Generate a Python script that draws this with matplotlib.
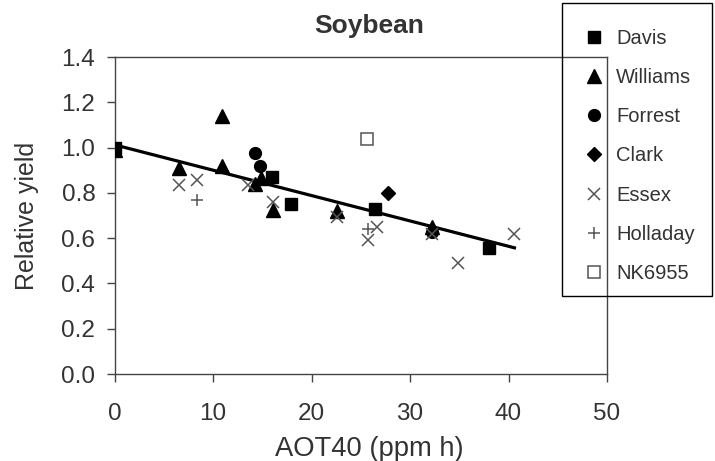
import numpy as np
import matplotlib
matplotlib.use("Agg")
import matplotlib.pyplot as plt
from matplotlib.patches import Rectangle

plt.rcParams['font.family'] = ['Liberation Sans', 'DejaVu Sans']

# values
davis_x = [0.0, 16.0, 17.9, 26.4, 38.0]
davis_y = [1.0, 0.87, 0.75, 0.73, 0.555]
williams_x = [0.0, 6.5, 10.9, 10.9, 14.2, 14.9, 16.1, 22.6, 32.2]
williams_y = [0.99, 0.91, 1.14, 0.92, 0.84, 0.865, 0.725, 0.72, 0.65]
forrest_x = [14.2, 14.8, 32.2]
forrest_y = [0.975, 0.92, 0.625]
clark_x = [27.8]
clark_y = [0.80]
essex_x = [6.5, 8.4, 13.5, 16.1, 22.6, 25.7, 26.6, 32.2, 34.9, 40.6]
essex_y = [0.835, 0.855, 0.835, 0.76, 0.695, 0.59, 0.648, 0.62, 0.49, 0.62]
holladay_x = [8.4, 25.7]
holladay_y = [0.77, 0.64]
nk_x = [25.6]
nk_y = [1.04]

# regression line
fit_intercept = 1.012
fit_slope = -0.0112
fit_range = [0.0, 40.6]

fig = plt.figure(figsize=(7.15, 4.61), dpi=100)
ax = fig.add_axes([114.7 / 715, 1 - 374 / 461, (607 - 114.7) / 715, (374 - 57) / 461])

fx = np.array(fit_range)
ax.plot(fx, fit_intercept + fit_slope * fx, color='black', lw=2.3, zorder=2)

gray = '#555555'
ax.plot(davis_x, davis_y, 's', ms=8.5, color='black', ls='none', label='Davis', zorder=3)
ax.plot(williams_x, williams_y, '^', ms=9.5, color='black', ls='none', label='Williams', zorder=3)
ax.plot(forrest_x, forrest_y, 'o', ms=8.5, color='black', ls='none', label='Forrest', zorder=3)
ax.plot(clark_x, clark_y, 'D', ms=7.5, color='black', ls='none', label='Clark', zorder=3)
ax.plot(essex_x, essex_y, 'x', ms=9, mew=1.1, color=gray, ls='none', label='Essex', zorder=3)
ax.plot(holladay_x, holladay_y, '+', ms=9, mew=1.1, color=gray, ls='none', label='Holladay', zorder=3)
ax.plot(nk_x, nk_y, 's', ms=8, mfc='white', mec=gray, mew=1.1, ls='none', label='NK6955', zorder=3)

ax.set_xlim(0, 50)
ax.set_ylim(0, 1.4)
ax.set_xticks([0, 10, 20, 30, 40, 50])
ax.set_yticks(np.arange(0, 1.41, 0.2))
ax.set_yticklabels(['%.1f' % v for v in np.arange(0, 1.41, 0.2)])

textc = '#333333'
for s in ax.spines.values():
    s.set_color('#444444')
    s.set_linewidth(1.0)
ax.tick_params(direction='out', length=6, width=1, color='#444444',
               labelsize=17.5, labelcolor=textc)
ax.tick_params(axis='x', pad=15)
ax.tick_params(axis='y', pad=8)

ax.set_xlabel('AOT40 (ppm h)', fontsize=19.7, color=textc, labelpad=8, x=0.5166)
ax.set_ylabel('Relative yield', fontsize=18, color=textc, labelpad=16)
ax.set_title('Soybean', fontsize=19, fontweight='bold', color=textc, pad=17, x=0.5166)

# legend box drawn separately, entries placed inside
fig.patches.append(Rectangle((562 / 715, 1 - 296 / 461), 150 / 715, 293 / 461,
                             transform=fig.transFigure, fill=False,
                             edgecolor='black', lw=1.0))
leg = fig.legend(loc='upper left', bbox_to_anchor=(584 / 715, 1 - 29 / 461),
                 frameon=False, fontsize=14.5,
                 labelspacing=1.0, handlelength=1.0, handletextpad=0.6,
                 borderpad=0, borderaxespad=0)
for t in leg.get_texts():
    t.set_color(textc)

fig.savefig('out.png', dpi=100)
